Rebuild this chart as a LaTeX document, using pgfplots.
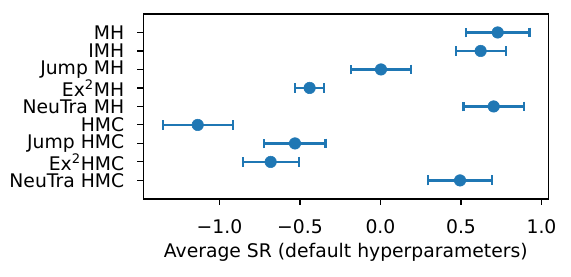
\documentclass[border=0pt]{standalone}
\usepackage{pgfplots}
\pgfplotsset{compat=1.18}
\usepackage{fontspec}
\setmainfont{DejaVu Sans}
\definecolor{c0}{HTML}{1F77B4}
\begin{document}
\begin{tikzpicture}
\begin{axis}[
  scale only axis,
  width=295.6pt, height=135pt,
  xmin=-1.473, xmax=1.042,
  ymin=-1, ymax=9, y dir=reverse,
  xtick={-1,-0.5,0,0.5,1},
  xticklabels={−1.0,−0.5,0.0,0.5,1.0},
  ytick={0,1,2,3,4,5,6,7,8},
  yticklabels={MH,IMH,Jump MH,Ex\textsuperscript{2}MH,NeuTra MH,HMC,Jump HMC,Ex\textsuperscript{2}HMC,NeuTra HMC},
  tick align=outside, tick pos=left,
  major tick length=4.4pt,
  every tick/.style={black, line width=0.8pt},
  axis line style={line width=0.9pt, black},
  xlabel={Average SR (default hyperparameters)},
  tick label style={font=\fontsize{13.7}{15}\selectfont},
  label style={font=\fontsize{13.7}{15}\selectfont},
  yticklabel style={xshift=-6pt},
  xticklabel style={yshift=-7pt},
  xlabel style={yshift=0pt},
  clip=false,
]
\addplot[c0, only marks, mark=*, mark size=4.2pt, mark options={line width=0.4pt},
  error bars/.cd, x dir=both, x explicit, error mark=|,
  error mark options={mark size=3.6pt, line width=1.6pt},
  error bar style={line width=1.6pt}]
  coordinates {
  (0.728,0) +- (0.198,0)
  (0.622,1) +- (0.155,0)
  (0.003,2) +- (0.186,0)
  (-0.440,3) +- (0.089,0)
  (0.703,4) +- (0.188,0)
  (-1.135,5) +- (0.217,0)
  (-0.531,6) +- (0.190,0)
  (-0.682,7) +- (0.174,0)
  (0.494,8) +- (0.201,0)
  };
\draw[line width=1.1pt, black] (rel axis cs:1,0) -- (rel axis cs:1,1);
\end{axis}
\path (current axis.south west) ++(-104.6pt,-56.9pt);
\path (current axis.north east) ++(16.6pt,10.2pt);
\end{tikzpicture}
\end{document}
